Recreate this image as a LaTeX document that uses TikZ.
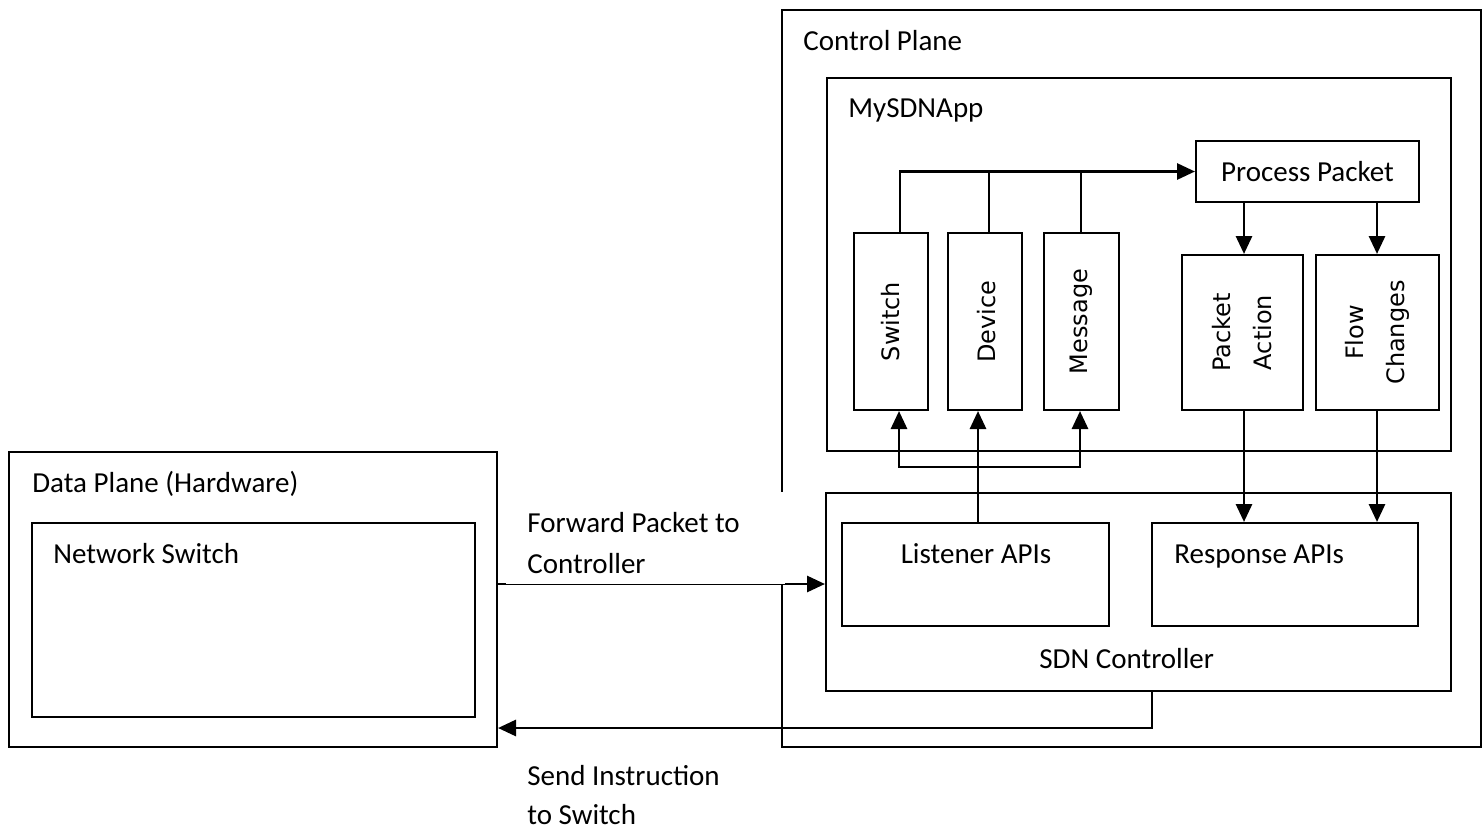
\documentclass[tikz,border=0pt]{standalone}
\usepackage{fontspec}
\setmainfont{Carlito}
\newfontfamily\vfont{DejaVu Sans}
\usetikzlibrary{arrows.meta,fit,calc}

\begin{document}
\begin{tikzpicture}[x=0.5pt,y=-0.5pt,
  box/.style={draw, line width=1pt, inner sep=0pt},
  txt/.style={font=\fontsize{14.5}{20.5}\selectfont, inner sep=0pt},
  vtxt/.style={font=\vfont\fontsize{12}{20.5}\selectfont, rotate=90, align=center, inner sep=0pt},
  conn/.style={line width=1.45pt},
  tip/.tip={Triangle[length=9pt,width=8pt]},
  arr/.style={conn, -tip},
  arrboth/.style={conn, tip-tip}]

\useasboundingbox (0,0) rectangle (1483,830);

% planes and containers
\node[box, fit={(782,10) (1481,747)}] (cp) {};
\node[box, fit={(827,78) (1451,451)}] (app) {};
\node[box, fit={(826,493) (1451,691)}] (sdn) {};
\node[box, fit={(9,452) (497,747)}] (dp) {};
\node[box, fit={(32,523) (475,717)}] (ns) {};

% application blocks
\node[box, fit={(1196,141) (1419,202)}] (pp) {};
\node[box, fit={(854,233) (928,410)}] (sw) {};
\node[box, fit={(948,233) (1022,410)}] (dv) {};
\node[box, fit={(1044,233) (1119,410)}] (ms) {};
\node[box, fit={(1182,255) (1303,410)}] (pa) {};
\node[box, fit={(1316,255) (1439,410)}] (fc) {};

% controller APIs
\node[box, fit={(842,523) (1109,626)}] (ls) {};
\node[box, fit={(1152,523) (1418,626)}] (rs) {};

% connector columns and rows
\coordinate (xs) at (900,0);
\coordinate (xd) at (989,0);
\coordinate (xm) at (1081,0);
\coordinate (xs2) at (899,0);
\coordinate (xd2) at (978,0);
\coordinate (xm2) at (1080,0);
\coordinate (ys) at (0,467);
\coordinate (xa) at (1244,0);
\coordinate (xf) at (1377,0);
\coordinate (yf) at (0,584);
\coordinate (xr) at (1152,0);
\coordinate (yr) at (0,728);

% listeners feed the packet processor
\draw[arr] (sw.north -| xs) |- (pp.west);
\draw[line width=1pt] (dv.north -| xd) -- (xd |- pp.west);
\draw[line width=1pt] (ms.north -| xm) -- (xm |- pp.west);

% listener APIs to listeners
\draw[arrboth] (sw.south -| xs2) -- (xs2 |- ys) -- (xm2 |- ys) -- (ms.south -| xm2);
\draw[arr] (ls.north -| xd2) -- (dv.south -| xd2);

% processor to responses
\draw[arr] (pp.south -| xa) -- (pa.north -| xa);
\draw[arr] (pp.south -| xf) -- (fc.north -| xf);
\draw[arr] (pa.south -| xa) -- (rs.north -| xa);
\draw[arr] (fc.south -| xf) -- (rs.north -| xf);

% switch <-> controller
\draw[arr] (dp.east |- yf) -- (sdn.west |- yf);
\draw[arr] (sdn.south -| xr) -- (xr |- yr) -- (dp.east |- yr);

% white text box of the forward label
\node[fill=white, inner sep=0pt, fit={(506,492) (785,583.9)}] (fwdbg) {};

% texts
\node[txt, anchor=base west] (cpt) at (803,50) {Control Plane};
\node[txt, anchor=base west] (appt) at (848,117) {MySDNApp};
\node[txt] (ppt) at (pp.center) {Process Packet};
\node[txt, anchor=base west] (dpt) at (32,492) {Data Plane (Hardware)};
\node[txt, anchor=base west] (nst) at (53,563) {Network Switch};
\node[txt, anchor=base west] (fw1) at (527,532) {Forward Packet to};
\node[txt, anchor=base west] (fw2) at (527,573) {Controller};
\node[txt, anchor=base west] (si1) at (527,785) {Send Instruction};
\node[txt, anchor=base west] (si2) at (527,824) {to Switch};
\node[txt, anchor=base] (lst) at (976,563) {Listener APIs};
\node[txt, anchor=base west] (rst) at (1174,563) {Response APIs};
\node[txt, anchor=base west] (sdnt) at (1039,668) {SDN Controller};

\node[vtxt] (swt) at (sw.center) {Switch};
\node[vtxt] (dvt) at ($(dv.center)+(2,0)$) {Device};
\node[vtxt] (mst) at (ms.center) {Message};
\node[vtxt] (pat) at (pa.center) {Packet\\Action};
\node[vtxt] (fct) at (fc.center) {Flow\\Changes};
\end{tikzpicture}
\end{document}
